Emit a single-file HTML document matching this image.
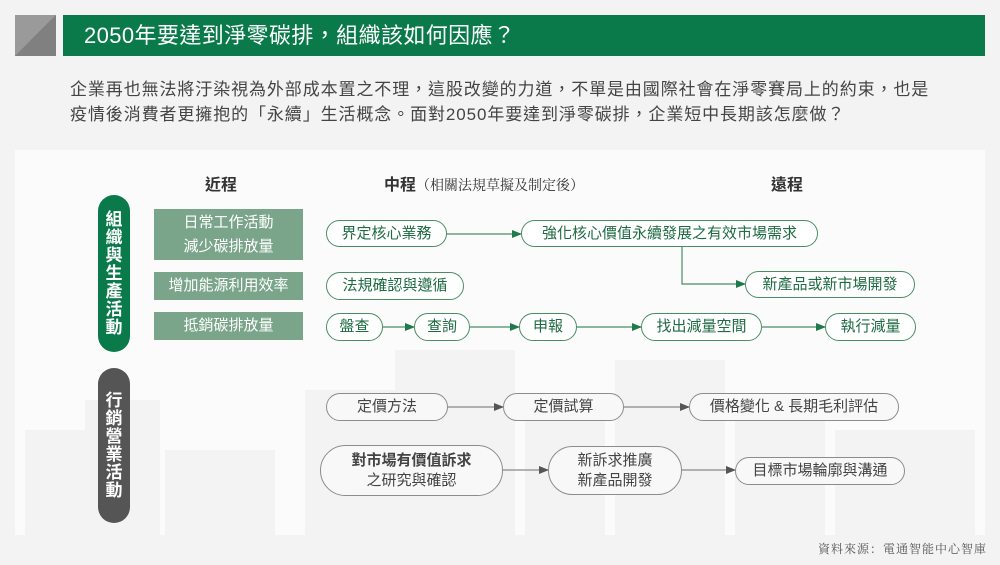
<!DOCTYPE html>
<html><head><meta charset="utf-8"><style>
*{margin:0;padding:0;box-sizing:border-box}
body{width:1000px;height:565px;background:#f3f3f3;position:relative;overflow:hidden;font-family:"Liberation Sans","Noto Sans CJK TC",sans-serif}
.a{position:absolute}
.n{position:absolute;border-radius:16px;display:flex;align-items:center;justify-content:center;font-size:15px;white-space:nowrap;text-align:center;line-height:20px}
.g{border:1.3px solid #4a8d65;color:#1f6b43;background:#fff}
.k{border:1.3px solid #8c8c8c;color:#444;background:#f8f8f8}
.gb{position:absolute;background:#7aa58a;color:#fff;font-size:15px;display:flex;align-items:center;justify-content:center;text-align:center;line-height:24px}
.pill{position:absolute;width:32px;border-radius:16px;color:#fff;font-weight:bold;font-size:17px;line-height:18px;display:flex;align-items:center;justify-content:center;text-align:center}
</style></head><body>
<div class="a" style="left:15px;top:15px;width:41px;height:41px;background:linear-gradient(135deg,#9a9a9a 50%,#808080 50%)"></div>
<div class="a" style="left:63px;top:15px;width:922px;height:41px;background:#0b7a4b;color:#fff;font-size:22px;line-height:41px;padding-left:21px;letter-spacing:0.4px">2050年要達到淨零碳排，組織該如何因應？</div>
<div class="a" style="left:70px;top:77px;font-size:17px;color:#444;line-height:25px;white-space:nowrap;letter-spacing:0.9px">企業再也無法將汙染視為外部成本置之不理，這股改變的力道，不單是由國際社會在淨零賽局上的約束，也是<br>疫情後消費者更擁抱的「永續」生活概念。面對2050年要達到淨零碳排，企業短中長期該怎麼做？</div>
<div class="a" style="left:15px;top:150px;width:970px;height:385px;background:#fbfbfb"></div>
<svg class="a" style="left:15px;top:150px" width="970" height="385">
<g fill="#f3f3f3">
<rect x="10" y="280" width="60" height="105"/><rect x="70" y="250" width="75" height="135"/><rect x="150" y="300" width="110" height="85"/>
<rect x="290" y="240" width="90" height="145"/><rect x="380" y="200" width="120" height="185"/><rect x="510" y="260" width="80" height="125"/>
<rect x="600" y="210" width="110" height="175"/><rect x="720" y="250" width="90" height="135"/><rect x="820" y="280" width="140" height="105"/>
</g></svg>
<div class="a" style="left:205px;top:171px;font-size:16px;font-weight:bold;color:#333">近程</div>
<div class="a" style="left:384px;top:171px;font-size:16px;color:#333;white-space:nowrap"><b>中程</b><span style="font-family:'Noto Serif CJK SC',serif;font-size:14px">（相關法規草擬及制定後）</span></div>
<div class="a" style="left:771px;top:171px;font-size:16px;font-weight:bold;color:#333">遠程</div>
<div class="pill" style="left:98px;top:195px;height:157px;background:#0b7a4b">組<br>織<br>與<br>生<br>產<br>活<br>動</div>
<div class="pill" style="left:98px;top:368px;height:155px;background:#555">行<br>銷<br>營<br>業<br>活<br>動</div>
<div class="gb" style="left:154px;top:209px;width:149px;height:51px">日常工作活動<br>減少碳排放量</div>
<div class="gb" style="left:154px;top:272px;width:149px;height:28px">增加能源利用效率</div>
<div class="gb" style="left:154px;top:312px;width:149px;height:28px">抵銷碳排放量</div>
<svg class="a" style="left:0;top:0" width="1000" height="565">
<defs><marker id="ag" markerWidth="10" markerHeight="8" refX="9" refY="4" orient="auto" markerUnits="userSpaceOnUse"><path d="M0,0L10,4L0,8z" fill="#1f7a4b"/></marker>
<marker id="ak" markerWidth="10" markerHeight="8" refX="9" refY="4" orient="auto" markerUnits="userSpaceOnUse"><path d="M0,0L10,4L0,8z" fill="#555"/></marker></defs>
<g stroke="#4a8d65" stroke-width="1.2" fill="none" marker-end="url(#ag)">
<line x1="447" y1="234" x2="521" y2="234"/><path d="M682 247V284H745"/>
<line x1="383" y1="327" x2="414" y2="327"/><line x1="470" y1="327" x2="519" y2="327"/>
<line x1="577" y1="327" x2="641" y2="327"/><line x1="762" y1="327" x2="825" y2="327"/>
</g>
<g stroke="#888" stroke-width="1.2" fill="none" marker-end="url(#ak)">
<line x1="448" y1="407" x2="503" y2="407"/><line x1="624" y1="407" x2="689" y2="407"/>
<line x1="503" y1="470" x2="548" y2="470"/><line x1="682" y1="470" x2="735" y2="470"/>
</g></svg>
<div class="n g" style="left:326px;top:220px;width:121px;height:27px">界定核心業務</div>
<div class="n g" style="left:521px;top:220px;width:297px;height:27px">強化核心價值永續發展之有效市場需求</div>
<div class="n g" style="left:745px;top:271px;width:170px;height:27px">新產品或新市場開發</div>
<div class="n g" style="left:326px;top:272px;width:138px;height:28px">法規確認與遵循</div>
<div class="n g" style="left:326px;top:313px;width:57px;height:28px">盤查</div>
<div class="n g" style="left:414px;top:313px;width:56px;height:28px">查詢</div>
<div class="n g" style="left:519px;top:313px;width:58px;height:28px">申報</div>
<div class="n g" style="left:641px;top:313px;width:121px;height:28px">找出減量空間</div>
<div class="n g" style="left:825px;top:313px;width:91px;height:28px">執行減量</div>
<div class="n k" style="left:326px;top:393px;width:122px;height:28px">定價方法</div>
<div class="n k" style="left:503px;top:393px;width:121px;height:28px">定價試算</div>
<div class="n k" style="left:689px;top:393px;width:210px;height:28px">價格變化 &amp; 長期毛利評估</div>
<div class="n k" style="left:320px;top:445px;width:183px;height:51px;border-radius:26px"><div><b>對市場有價值訴求</b><br>之研究與確認</div></div>
<div class="n k" style="left:548px;top:446px;width:134px;height:49px;border-radius:25px">新訴求推廣<br>新產品開發</div>
<div class="n k" style="left:735px;top:457px;width:170px;height:28px">目標市場輪廓與溝通</div>
<div class="a" style="left:818px;top:540px;font-size:12px;color:#555;font-family:'Noto Serif CJK SC',serif;letter-spacing:1px;white-space:nowrap">資料來源：電通智能中心智庫</div>
</body></html>
